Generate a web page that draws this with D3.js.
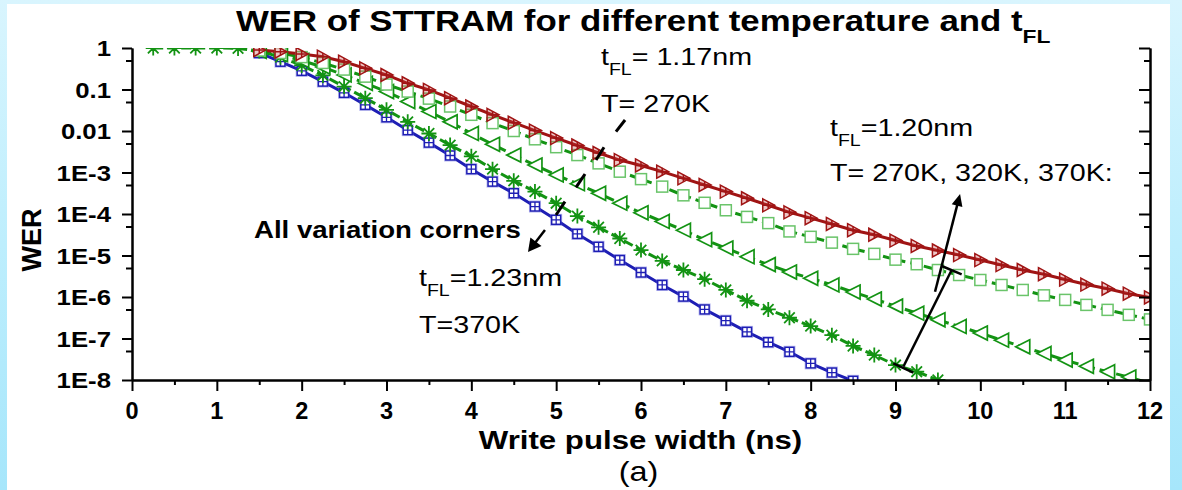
<!DOCTYPE html>
<html>
<head>
<meta charset="utf-8">
<script src="https://cdn.jsdelivr.net/npm/d3@7"></script>
<style>
  html, body { margin: 0; padding: 0; }
  body {
    width: 1182px; height: 490px; overflow: hidden;
    background: linear-gradient(180deg, #d9f5fe 0%, #bdeefd 50%, #a6e6fb 100%);
  }
  svg { display: block; }
  text { font-family: "Liberation Sans", Arial, sans-serif; fill: #000; }
</style>
</head>
<body>
<div class="chart"></div>
<script>
// pulse width grid (ns) shared by every curve, null = no point at that width
const pulseNs = [0.25,0.5,0.75,1,1.25,1.5,1.75,2,2.25,2.5,2.75,3,3.25,3.5,3.75,4,
  4.25,4.5,4.75,5,5.25,5.5,5.75,6,6.25,6.5,6.75,7,7.25,7.5,7.75,8,8.25,8.5,8.75,
  9,9.25,9.5,9.75,10,10.25,10.5,10.75,11,11.25,11.5,11.75,12];

// log10(WER)
const wer117_270 = [null,null,null,null,null,
  -0.05,-0.09,-0.145,-0.21,-0.33,-0.49,-0.65,-0.85,-1.01,-1.21,
  -1.41,-1.61,-1.80,-1.99,-2.17,-2.35,-2.53,-2.70,-2.83,-2.98,
  -3.14,-3.30,-3.46,-3.62,-3.79,-3.96,-4.10,-4.24,-4.39,-4.50,
  -4.64,-4.77,-4.88,-4.99,-5.11,-5.23,-5.35,-5.45,-5.58,-5.70,
  -5.80,-5.92,-6.01];
const wer120_270 = [null,null,null,null,null,
  -0.06,-0.12,-0.22,-0.36,-0.52,-0.69,-0.88,-1.05,-1.22,-1.41,
  -1.61,-1.81,-2.00,-2.20,-2.39,-2.58,-2.78,-2.98,-3.16,-3.34,
  -3.55,-3.73,-3.91,-4.07,-4.22,-4.42,-4.55,-4.69,-4.84,-4.96,
  -5.10,-5.21,-5.35,-5.47,-5.59,-5.71,-5.83,-5.96,-6.07,-6.19,
  -6.31,-6.43,-6.54];
const wer120_320 = [null,null,null,null,null,
  -0.08,-0.16,-0.30,-0.46,-0.65,-0.85,-1.05,-1.29,-1.53,-1.78,
  -2.06,-2.32,-2.58,-2.82,-3.06,-3.27,-3.50,-3.74,-3.97,-4.18,
  -4.39,-4.62,-4.82,-5.03,-5.22,-5.40,-5.55,-5.71,-5.88,-6.05,
  -6.22,-6.39,-6.55,-6.71,-6.87,-7.04,-7.20,-7.36,-7.52,-7.67,
  -7.80,-7.93,-8.08];
const wer120_370 = [0,0,0,0,-0.01,
  -0.07,-0.22,-0.42,-0.66,-0.93,-1.21,-1.49,-1.78,-2.06,-2.34,
  -2.61,-2.92,-3.20,-3.46,-3.74,-4.05,-4.32,-4.59,-4.87,-5.13,
  -5.35,-5.57,-5.83,-6.09,-6.30,-6.50,-6.70,-6.92,-7.18,-7.40,
  -7.64,-7.80,-8.00,
  null,null,null,null,null,null,null,null,null,null];
const wer123_370 = [null,null,null,null,null,
  -0.12,-0.33,-0.55,-0.81,-1.08,-1.37,-1.67,-1.98,-2.28,-2.59,
  -2.92,-3.22,-3.50,-3.82,-4.14,-4.48,-4.79,-5.11,-5.41,-5.71,
  -5.99,-6.30,-6.57,-6.84,-7.09,-7.32,-7.60,-7.82,-8.02,
  null,null,null,null,null,null,null,null,null,null,null,null,null,null];

const xTicks = [0,1,2,3,4,5,6,7,8,9,10,11,12];
const yTicks = [1,1e-1,1e-2,1e-3,1e-4,1e-5,1e-6,1e-7,1e-8];
const yTickLabels = ["1","0.1","0.01","1E-3","1E-4","1E-5","1E-6","1E-7","1E-8"];

(function(){
  const svgWidth = 1182, svgHeight = 490;
  const plot = { left: 132, right: 1150, top: 48, bottom: 380 };

  const svg = d3.select(".chart").append("svg")
    .attr("width", svgWidth).attr("height", svgHeight);

  // white slide panel
  svg.append("rect")
    .attr("x", 7).attr("y", 4).attr("width", 1163).attr("height", 486)
    .attr("fill", "#fff");

  const x = d3.scaleLinear().domain([0, 12]).range([plot.left, plot.right]);
  const y = d3.scaleLog().domain([1e-8, 1]).range([plot.bottom, plot.top]);

  svg.append("clipPath").attr("id", "plotClip")
    .append("rect")
    .attr("x", plot.left).attr("y", plot.top)
    .attr("width", plot.right - plot.left).attr("height", plot.bottom - plot.top);

  // stretched text helper (the picture's glyphs are wider than the font)
  function txt(px, py, k, size, weight, anchor) {
    return svg.append("text")
      .attr("transform", `translate(${px},${py}) scale(${k},1)`)
      .attr("font-size", size)
      .attr("font-weight", weight || "normal")
      .attr("text-anchor", anchor || "start");
  }

  // ---- series ----
  const series = [
    { vals: wer123_370, line: "#1e1eb4", dash: null, marker: "gridSquare" },
    { vals: wer120_370, line: "#139313", dash: "10,4", marker: "star" },
    { vals: wer120_320, line: "#139313", dash: "12,5", marker: "triLeft" },
    { vals: wer120_270, line: "#139313", dash: "9,5", marker: "square" },
    { vals: wer117_270, line: "#a01414", dash: null, marker: "triRight" }
  ];
  series.forEach(s => {
    s.points = pulseNs.map((t, i) => ({ t: t, v: s.vals[i] == null ? null : Math.pow(10, s.vals[i]) }))
      .filter(d => d.v != null);
  });

  const line = d3.line().x(d => x(d.t)).y(d => y(d.v));
  const plotG = svg.append("g").attr("clip-path", "url(#plotClip)");

  series.forEach(s => {
    plotG.append("path")
      .datum(s.points)
      .attr("d", line)
      .attr("fill", "none")
      .attr("stroke", s.line)
      .attr("stroke-width", 3)
      .attr("stroke-dasharray", s.dash);
  });

  const markerDraw = {
    triRight: g => {
      g.append("path").attr("d", "M-5.5,-6.5L6.5,0L-5.5,6.5Z")
        .attr("fill", "rgba(200,70,70,0.3)").attr("stroke", "#a01414").attr("stroke-width", 1.5);
      g.append("path").attr("d", "M0,-3.8V3.8M-5.5,0H6.5")
        .attr("stroke", "#a01414").attr("stroke-width", 1.5);
    },
    square: g => {
      g.append("rect").attr("x", -5.5).attr("y", -5.5).attr("width", 11).attr("height", 11)
        .attr("fill", "#fff").attr("stroke", "#6ac46a").attr("stroke-width", 1.5);
    },
    triLeft: g => {
      g.append("path").attr("d", "M7,-7L-7,0L7,7Z")
        .attr("fill", "#fff").attr("stroke", "#139313").attr("stroke-width", 1.7);
    },
    star: g => {
      g.append("path").attr("d", "M0,-7.5V7.5M-7.5,0H7.5M-5.3,-5.3L5.3,5.3M-5.3,5.3L5.3,-5.3")
        .attr("stroke", "#139313").attr("stroke-width", 1.8);
    },
    gridSquare: g => {
      g.append("rect").attr("x", -5.5).attr("y", -5.5).attr("width", 11).attr("height", 11)
        .attr("fill", "none").attr("stroke", "rgba(90,90,220,0.45)").attr("stroke-width", 1);
      g.append("rect").attr("x", -4.5).attr("y", -4.5).attr("width", 9).attr("height", 9)
        .attr("fill", "#fff").attr("stroke", "#1e1eb4").attr("stroke-width", 1.5);
      g.append("path").attr("d", "M0,-4.5V4.5M-4.5,0H4.5")
        .attr("stroke", "#1e1eb4").attr("stroke-width", 1.3);
    }
  };

  series.forEach(s => {
    plotG.append("g").selectAll("g")
      .data(s.points)
      .enter()
      .append("g")
      .attr("transform", d => `translate(${x(d.t)},${y(d.v)})`)
      .each(function(){ markerDraw[s.marker](d3.select(this)); });
  });

  // ---- axes ----
  const minorY = yTicks.slice(0, -1).map(v => v * 0.5);
  const minorX = xTicks.slice(0, -1).map(v => v + 0.5);

  function styleAxis(g) {
    g.selectAll("path, line").attr("stroke", "#000").attr("stroke-width", 2);
    g.selectAll("text").remove();
  }

  svg.append("g").attr("transform", `translate(${plot.left},0)`)
    .call(d3.axisLeft(y).tickValues(minorY).tickSize(6).tickSizeOuter(0)).call(styleAxis);
  svg.append("g").attr("transform", `translate(${plot.left},0)`)
    .call(d3.axisLeft(y).tickValues(yTicks).tickSize(10).tickSizeOuter(0)).call(styleAxis);

  svg.append("g").attr("transform", `translate(${plot.right},0)`)
    .call(d3.axisLeft(y).tickValues(minorY).tickSize(6).tickSizeOuter(0)).call(styleAxis);
  svg.append("g").attr("transform", `translate(${plot.right},0)`)
    .call(d3.axisLeft(y).tickValues(yTicks).tickSize(11).tickSizeOuter(0)).call(styleAxis);

  svg.append("g").attr("transform", `translate(0,${plot.bottom})`)
    .call(d3.axisBottom(x).tickValues(minorX).tickSize(5).tickSizeOuter(0)).call(styleAxis);
  svg.append("g").attr("transform", `translate(0,${plot.bottom})`)
    .call(d3.axisBottom(x).tickValues(xTicks).tickSize(11).tickSizeOuter(0)).call(styleAxis);

  // tick labels
  yTicks.forEach((v, i) => {
    txt(111, y(v) + 8, 1.12, 23, "bold", "end").text(yTickLabels[i]);
  });
  xTicks.forEach(v => {
    txt(x(v), 419, 1, 23.5, "bold", "middle").text(v);
  });

  // ---- titles ----
  const title = txt(236, 31, 1.2, 29, "bold");
  title.append("tspan").text("WER of STTRAM for different temperature and t");
  title.append("tspan").attr("font-size", 19).attr("dy", 12).text("FL");

  txt(640.5, 449, 1.2, 26, "bold", "middle").text("Write pulse width (ns)");
  txt(638.5, 481, 1.2, 27, "normal", "middle").text("(a)");
  svg.append("text")
    .attr("transform", "translate(41,240) rotate(-90)")
    .attr("text-anchor", "middle")
    .attr("font-size", 27).attr("font-weight", "bold")
    .text("WER");

  // ---- annotations ----
  function sub(t, a, b, c) {
    t.append("tspan").text(a);
    t.append("tspan").attr("font-size", 16).attr("dy", 10).text(b);
    t.append("tspan").attr("dy", -10).text(c);
  }
  sub(txt(601, 65, 1.22, 23.5), "t", "FL", "= 1.17nm");
  txt(601, 112, 1.22, 23.5).text("T= 270K");
  sub(txt(830, 136, 1.22, 23.5), "t", "FL", "=1.20nm");
  txt(830, 181, 1.22, 23.5).text("T= 270K, 320K, 370K:");
  txt(254, 238, 1.2, 23, "bold").text("All variation corners");
  sub(txt(419, 286, 1.22, 23.5), "t", "FL", "=1.23nm");
  txt(419, 333, 1.22, 23.5).text("T=370K");

  // annotation marks in data units [ns, log10 WER]
  const P = p => [x(p[0]), y(Math.pow(10, p[1]))];
  const seg = (a, b, w) => {
    const A = P(a), B = P(b);
    svg.append("line").attr("x1", A[0]).attr("y1", A[1]).attr("x2", B[0]).attr("y2", B[1])
      .attr("stroke", "#000").attr("stroke-width", w || 3);
  };
  const arrowHead = (a, b, len, half) => {
    const A = P(a), B = P(b);
    const dx = B[0] - A[0], dy = B[1] - A[1], L = Math.hypot(dx, dy);
    const ux = dx / L, uy = dy / L;
    const bx = B[0] - ux * len, by = B[1] - uy * len;
    svg.append("line").attr("x1", A[0]).attr("y1", A[1]).attr("x2", bx + ux).attr("y2", by + uy)
      .attr("stroke", "#000").attr("stroke-width", 2.5);
    svg.append("path")
      .attr("d", `M${B[0]},${B[1]}L${bx - uy * half},${by + ux * half}L${bx + uy * half},${by - ux * half}Z`)
      .attr("fill", "#000");
  };

  // short strokes marking the crossing of the curves
  seg([5.705, -2.017], [5.812, -1.735]);
  seg([5.470, -2.699], [5.564, -2.393]);
  seg([5.234, -3.357], [5.340, -3.036]);
  seg([4.998, -4.024], [5.104, -3.704]);
  arrowHead([4.868, -4.386], [4.668, -4.916], 13, 7);

  // temperature arrow on the right
  seg([9.092, -7.680], [9.662, -5.349], 2.5);
  seg([8.974, -7.598], [9.210, -7.824], 2.5);
  seg([9.545, -5.253], [9.780, -5.453], 2.5);
  arrowHead([9.466, -5.872], [9.761, -3.518], 12, 5.5);
})();
</script>
</body>
</html>
